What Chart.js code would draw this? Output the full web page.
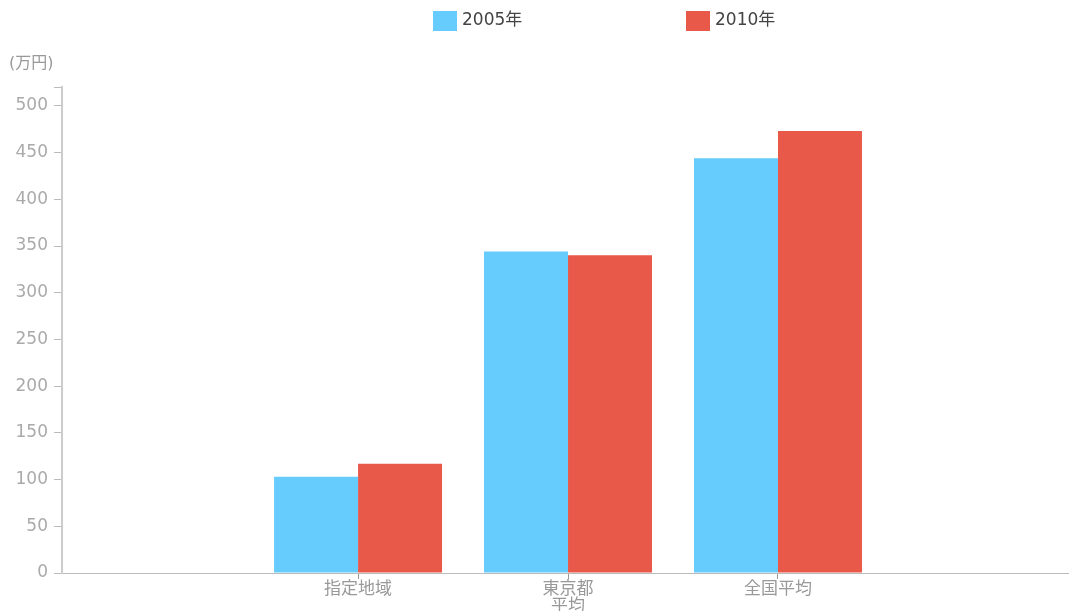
<!DOCTYPE html>
<html lang="ja">
<head>
<meta charset="utf-8">
<script src="https://cdn.jsdelivr.net/npm/chart.js@4/dist/chart.umd.min.js"></script>
<style>
  html, body { margin: 0; padding: 0; background: #fff; }
</style>
</head>
<body>
<canvas id="incomeChart" width="1069" height="611"></canvas>
<script>
// 平均所得（万円）
const categories = ['指定地域', ['東京都', '平均'], '全国平均'];
const years = ['2005年', '2010年'];
const income2005 = [103, 344, 444];
const income2010 = [117, 340, 473];
const yTicks = [0, 50, 100, 150, 200, 250, 300, 350, 400, 450, 500];
const yMax = 520;
const barColors = ['#66cbfd', '#e9594a'];

Chart.defaults.font.family = '"DejaVu Sans", "Noto Sans CJK JP", sans-serif';

// categories sit on a linear axis so the groups keep a fixed spacing
const toPoints = (values) => values.map((v, i) => ({ x: i, y: v }));

// simple top legend, items spread apart
const topLegend = {
    id: 'topLegend',
    afterDraw(chart) {
        const ctx = chart.ctx;
        const itemX = [433, 686];
        ctx.save();
        ctx.font = '17px "DejaVu Sans", "Noto Sans CJK JP", sans-serif';
        ctx.textBaseline = 'middle';
        chart.data.datasets.forEach((ds, i) => {
            ctx.fillStyle = ds.backgroundColor;
            ctx.fillRect(itemX[i], 11, 24, 20);
            ctx.fillStyle = '#444';
            ctx.fillText(ds.label, itemX[i] + 29, 21);
        });
        ctx.restore();
    }
};

const ctx = document.getElementById('incomeChart');

const incomeChart = new Chart(ctx, {
    type: 'bar',
    data: {
        datasets: [{
            label: years[0],
            data: toPoints(income2005),
            backgroundColor: barColors[0]
        }, {
            label: years[1],
            data: toPoints(income2010),
            backgroundColor: barColors[1]
        }]
    },
    options: {
        responsive: false,
        animation: false,
        categoryPercentage: 0.8,
        barPercentage: 1.0,
        layout: {
            padding: { left: 9, right: 0, top: 0, bottom: 0 }
        },
        plugins: {
            legend: { display: false },
            tooltip: { enabled: false },
            title: {
                display: true,
                text: '(万円)',
                align: 'start',
                weight: 500,
                color: '#999',
                font: { size: 16, weight: 'normal', lineHeight: 1.2 },
                padding: { top: 54, bottom: 14 }
            }
        },
        scales: {
            x: {
                type: 'linear',
                offset: false,
                min: -1.41,
                max: 3.386,
                afterBuildTicks: (scale) => {
                    scale.ticks = categories.map((c, i) => ({ value: i }));
                },
                afterFit: (scale) => {
                    scale.height = 38;
                },
                grid: {
                    offset: false,
                    drawOnChartArea: false,
                    tickLength: 6,
                    color: '#999'
                },
                border: { color: '#bbb', width: 1 },
                ticks: {
                    padding: 3,
                    color: '#999',
                    font: { size: 17, lineHeight: 0.95 },
                    maxRotation: 0,
                    autoSkip: false,
                    callback: (value) => categories[value]
                }
            },
            y: {
                min: 0,
                max: yMax,
                afterBuildTicks: (scale) => {
                    scale.ticks = yTicks.concat(yMax).map((v) => ({ value: v }));
                },
                afterFit: (scale) => {
                    scale.width = 53;
                },
                grid: {
                    drawOnChartArea: false,
                    tickLength: 8,
                    color: '#bbb'
                },
                border: { color: '#ccc', width: 2 },
                ticks: {
                    padding: 6,
                    color: '#aaa',
                    font: { size: 17 },
                    callback: (value) => yTicks.includes(value) ? value : ''
                }
            }
        }
    },
    plugins: [topLegend]
});
</script>
</body>
</html>
